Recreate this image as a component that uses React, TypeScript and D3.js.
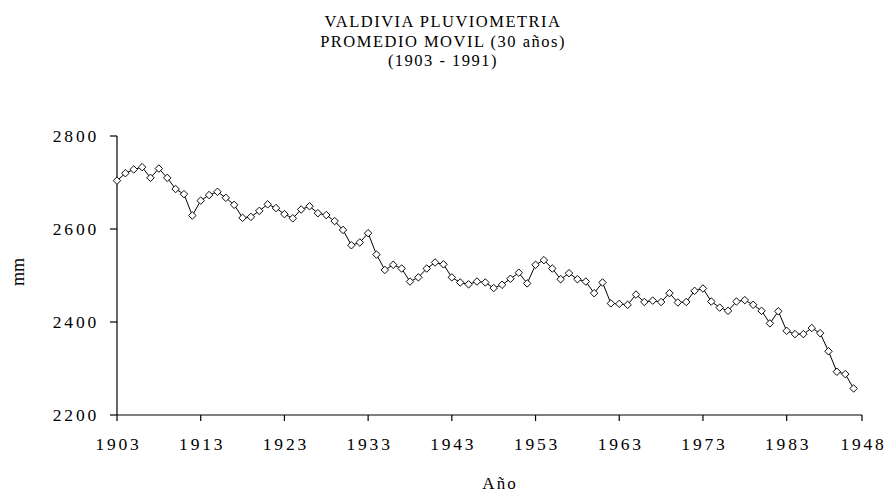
import React from "react";
import * as d3 from "d3";

const years: number[] = d3.range(1903, 1992);
const values: number[] = [
  2704, 2720, 2728, 2733, 2710, 2730, 2710, 2686, 2675, 2629,
  2661, 2673, 2680, 2667, 2652, 2624, 2626, 2639, 2653, 2645,
  2632, 2623, 2642, 2649, 2634, 2630, 2617, 2598, 2565, 2571,
  2591, 2545, 2512, 2523, 2515, 2487, 2496, 2515, 2528, 2524,
  2496, 2485, 2481, 2487, 2485, 2473, 2480, 2493, 2506, 2483,
  2523, 2533, 2515, 2492, 2505, 2492, 2487, 2462, 2485, 2440,
  2439, 2437, 2459, 2443, 2446, 2443, 2462, 2442, 2443, 2467,
  2472, 2444, 2431, 2424, 2444, 2447, 2437, 2424, 2397, 2423,
  2381, 2374, 2374, 2387, 2376, 2337, 2293, 2288, 2257,
];
const xTickYears: number[] = [1903, 1913, 1923, 1933, 1943, 1953, 1963, 1973, 1983, 1992];
const xTickLabels: string[] = ["1903", "1913", "1923", "1933", "1943", "1953", "1963", "1973", "1983", "1948"];
const yTicks: number[] = [2200, 2400, 2600, 2800];
const titleLines: string[] = ["VALDIVIA PLUVIOMETRIA", "PROMEDIO MOVIL (30 años)", "(1903 - 1991)"];
const xTitle = "Año";
const yTitle = "mm";

const W = 886;
const H = 493;
const FONT = "'Liberation Serif', 'Times New Roman', serif";

export default function App() {
  const x = d3.scaleLinear().domain([1903, 1992]).range([117, 862]);
  const y = d3.scaleLinear().domain([2200, 2800]).range([415, 136]);
  const line = d3
    .line<number>()
    .x((_, i) => x(years[i]))
    .y((d) => y(d));
  const marker = d3.symbol(d3.symbolSquare, 28)() as string;

  return (
    <svg
      width={W}
      height={H}
      style={{ position: "absolute", left: 0, top: 0, background: "#fff" }}
    >
      <rect x={0} y={0} width={W} height={H} fill="#fff" />
      {titleLines.map((t, i) => (
        <text
          key={i}
          x={443}
          y={27 + i * 19.5}
          textAnchor="middle"
          fontFamily={FONT}
          fontSize={16.5}
          letterSpacing={1.5}
          fill="#000"
        >
          {t}
        </text>
      ))}
      {/* Y axis */}
      <line x1={117} x2={117} y1={y(2800)} y2={y(2200)} stroke="#000" strokeWidth={1.2} />
      {yTicks.map((t) => (
        <g key={t}>
          <line x1={110} x2={117} y1={y(t)} y2={y(t)} stroke="#000" strokeWidth={1.2} />
          <text
            x={99}
            y={y(t) + 6}
            textAnchor="end"
            fontFamily={FONT}
            fontSize={17.5}
            letterSpacing={2.8}
            fill="#000"
          >
            {t}
          </text>
        </g>
      ))}
      {/* X axis */}
      <line x1={117} x2={x(1992)} y1={415} y2={415} stroke="#000" strokeWidth={1.2} />
      {xTickYears.map((t, i) => (
        <g key={t}>
          <line x1={x(t)} x2={x(t)} y1={415} y2={421} stroke="#000" strokeWidth={1.2} />
          <text
            x={x(t) + 1.5}
            y={450}
            textAnchor="middle"
            fontFamily={FONT}
            fontSize={17.5}
            letterSpacing={2.8}
            fill="#000"
          >
            {xTickLabels[i]}
          </text>
        </g>
      ))}
      <text
        x={500}
        y={489}
        textAnchor="middle"
        fontFamily={FONT}
        fontSize={17}
        letterSpacing={2}
        fill="#000"
      >
        {xTitle}
      </text>
      <text
        transform="translate(24,272) rotate(-90)"
        textAnchor="middle"
        fontFamily={FONT}
        fontSize={18}
        fill="#000"
      >
        {yTitle}
      </text>
      {/* Series */}
      <path d={line(values) ?? ""} fill="none" stroke="#000" strokeWidth={1} />
      {values.map((v, i) => (
        <path
          key={i}
          d={marker}
          transform={`translate(${x(years[i])},${y(v)}) rotate(45)`}
          fill="#fff"
          stroke="#000"
          strokeWidth={0.9}
        />
      ))}
    </svg>
  );
}
